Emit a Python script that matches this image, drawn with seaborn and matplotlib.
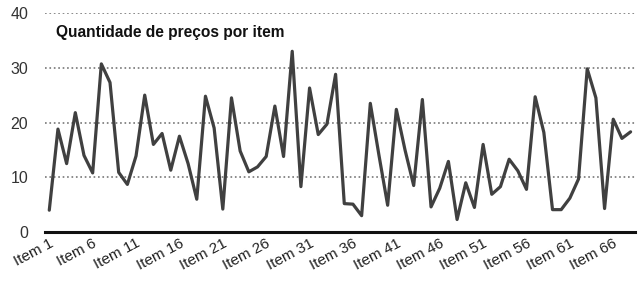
import matplotlib
matplotlib.use('Agg')
import matplotlib.pyplot as plt
import pandas as pd
import seaborn as sns

# values
items = ['Item %d' % i for i in range(1, 69)]
quantidade = [
    4, 18.8, 12.5, 21.8, 14, 10.8, 30.7, 27.3, 10.9, 8.7,
    13.9, 25, 16, 18, 11.3, 17.5, 12.5, 6, 24.8, 19,
    4.2, 24.5, 14.8, 11, 11.9, 13.8, 23, 13.8, 33, 8.3,
    26.3, 17.8, 19.7, 28.8, 5.2, 5.1, 3, 23.5, 14, 4.9,
    22.4, 15, 8.5, 24.2, 4.6, 8, 12.9, 2.3, 9, 4.5,
    16, 6.9, 8.3, 13.3, 11.2, 7.8, 24.7, 18.2, 4.1, 4.1,
    6.2, 9.7, 29.8, 24.5, 4.3, 20.6, 17.1, 18.3,
]
tick_labels = items[::5]

df = pd.DataFrame({'pos': range(len(items)), 'item': items, 'qtd': quantidade})

sns.set_style('white')
plt.rcParams['font.family'] = ['Liberation Sans', 'DejaVu Sans']

fig = plt.figure(figsize=(6.42, 2.81), dpi=100)
ax = fig.add_axes([0.07, 0.174, 0.919, 0.78])

sns.lineplot(data=df, x='pos', y='qtd', ax=ax, color='#404040', linewidth=2.3)

ax.set_ylim(0, 40)
ax.set_xlim(-0.5, len(items) - 0.5)
ax.set_yticks([0, 10, 20, 30, 40])
ax.set_xticks(range(0, len(items), 5))
ax.set_xticklabels(tick_labels, rotation=28, ha='right', rotation_mode='anchor')
ax.tick_params(axis='x', labelsize=11, length=0, pad=3, colors='#222222')
ax.tick_params(axis='y', labelsize=11.5, length=0, pad=12, colors='#333333')
ax.set_xlabel('')
ax.set_ylabel('')

ax.grid(axis='y', linestyle=':', color='#777777', linewidth=1.2)
ax.grid(axis='x', visible=False)
ax.set_axisbelow(True)
for side in ['top', 'right', 'left']:
    ax.spines[side].set_visible(False)
ax.spines['bottom'].set_color('#111111')
ax.spines['bottom'].set_linewidth(2.2)

ax.text(0.019, 0.945, 'Quantidade de preços por item', transform=ax.transAxes,
        ha='left', va='top', fontsize=11.2, fontweight='bold', color='#111111')

fig.savefig('out.png', dpi=100)
plt.close(fig)
